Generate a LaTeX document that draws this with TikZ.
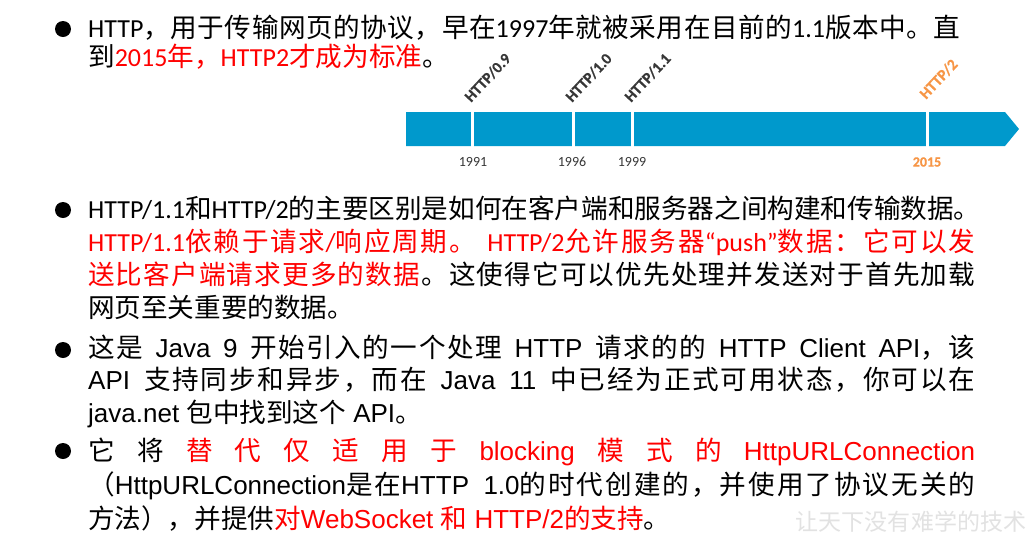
\documentclass[tikz,border=0pt]{standalone}
\usepackage{fontspec}
\setmainfont{Carlito}
\newfontfamily\zh{Noto Sans CJK SC}[Scale=1.023]
\newfontfamily\cb{Carlito}
\newfontfamily\cbb{Carlito}[UprightFont=*-Bold, FakeBold=0.6]
\newfontfamily\ar{Liberation Sans}
\definecolor{hred}{RGB}{255,0,0}
\definecolor{barblue}{RGB}{0,153,204}
\definecolor{lblgray}{RGB}{55,55,55}
\definecolor{horange}{RGB}{247,150,70}
\definecolor{wmgray}{RGB}{226,226,226}
\newcommand\ZEnd{}
\newcommand\Zloop[1]{\ifx#1\ZEnd\else\hskip0pt plus1pt minus0.5pt\relax#1\expandafter\Zloop\fi}
\newcommand\Zfirst[1]{#1\Zloop}
\newcommand\Z[1]{{\zh\Zfirst#1\ZEnd}}
\newcommand\z[1]{{\zh #1}}
\newcommand\G{\hskip0pt plus1pt minus0.5pt\relax}
\newcommand\R[1]{\textcolor{hred}{#1}}
\tikzset{
  txt/.style={anchor=base west, inner sep=0pt, font=\fontsize{26}{30}\selectfont},
  txtar/.style={anchor=base west, inner sep=0pt, font=\ar\fontsize{26}{30}\selectfont},
  bul/.style={circle, fill=black, inner sep=0pt, minimum size=16pt},
  verlbl/.style={anchor=base west, inner sep=0pt, rotate=47, text=lblgray, font=\cbb\fontsize{15.5}{17}\selectfont},
  yearlbl/.style={anchor=center, inner sep=0pt, text=lblgray, font=\cb\fontsize{14}{16}\selectfont},
  sep/.style={white, line width=3pt}
}
\begin{document}
\begin{tikzpicture}[x=1pt,y=-1pt]
\fill[white] (0,0) rectangle (1034,542);
\useasboundingbox (0,0) rectangle (1034,542);

% bullet 1
\node[bul] (b1) at (63,29) {};
\node[txt] (l11) at (88,37) {\makebox[872pt][s]{HTTP\Z{，用于传输网页的协议，早在}1997\Z{年就被采用在目前的}1.1\Z{版本中。直}}};
\node[txt] (l12) at (88,66) {\Z{到}\R{2015\Z{年，}HTTP2\Z{才成为标准}}\Z{。}};

% timeline
\fill[barblue] (406,112) coordinate (bar1) -- (1005,112) -- (1019,129) coordinate (tip) -- (1005,146) -- (406,146) -- cycle;
\coordinate (s1t) at (472.5,111); \coordinate (s1b) at (472.5,147);
\coordinate (s2t) at (573.5,111); \coordinate (s2b) at (573.5,147);
\coordinate (s3t) at (632.5,111); \coordinate (s3b) at (632.5,147);
\coordinate (s4t) at (927.5,111); \coordinate (s4b) at (927.5,147);
\draw[sep] (s1t) -- (s1b);
\draw[sep] (s2t) -- (s2b);
\draw[sep] (s3t) -- (s3b);
\draw[sep] (s4t) -- (s4b);
\node[verlbl] (v09) at (471,103) {HTTP/0.9};
\node[verlbl] (v10) at (572,103) {HTTP/1.0};
\node[verlbl] (v11) at (631,103) {HTTP/1.1};
\node[verlbl, text=horange] (v2) at (926,100) {HTTP/2};
\node[yearlbl] (y91) at (473,162) {1991};
\node[yearlbl] (y96) at (572,162) {1996};
\node[yearlbl] (y99) at (632,162) {1999};
\node[yearlbl, text=horange, font=\cbb\fontsize{14}{16}\selectfont] (y15) at (927,162) {2015};

% bullet 2
\node[bul] (b2) at (63,210) {};
\node[txt] (l21) at (88,218) {HTTP/1.1\Z{和}HTTP/2\Z{的主要区别是如何在客户端和服务器之间构建和传输数据。}};
\node[txt] (l22) at (88,251) {\makebox[887pt][s]{\R{HTTP/1.1\Z{依赖于请求}/\Z{响应周期。}\ HTTP/2\Z{允许服务器}“push”\Z{数据：它可以发}}}};
\node[txt] (l23) at (88,284) {\makebox[887pt][s]{\R{\Z{送比客户端请求更多的数据}}\G\Z{。这使得它可以优先处理并发送对于首先加载}}};
\node[txt] (l24) at (88,317) {\Z{网页至关重要的数据。}};

% bullet 3
\node[bul] (b3) at (63,350) {};
\node[txtar] (l31) at (88,357) {\makebox[887pt][s]{\Z{这是} Java 9 \Z{开始引入的一个处理} HTTP \Z{请求的的} HTTP Client API\Z{，该}}};
\node[txtar] (l32) at (88,389) {\makebox[887pt][s]{API \Z{支持同步和异步，而在} Java 11 \Z{中已经为正式可用状态，你可以在}}};
\node[txtar] (l33) at (88,422) {java.net \z{包中找到这个} API\z{。}};

% bullet 4
\node[bul] (b4) at (63,451) {};
\node[txtar] (l41) at (88,460) {\makebox[887pt][s]{\z{它}\hfill\z{将}\hfill\R{\z{替}\hfill\z{代}\hfill\z{仅}\hfill\z{适}\hfill\z{用}\hfill\z{于}\hfill blocking\hfill\z{模}\hfill\z{式}\hfill\z{的}\hfill HttpURLConnection}}};
\node[txtar] (l42) at (88,494) {\makebox[887pt][s]{\Z{（}HttpURLConnection\Z{是在}HTTP 1.0\Z{的时代创建的，并使用了协议无关的}}};
\node[txtar] (l43) at (88,528) {\Z{方法），并提供}\R{\Z{对}WebSocket \z{和} HTTP/2\Z{的支持}}\Z{。}};

% watermark
\node[inner sep=0pt, text=wmgray, font=\zh\fontsize{22.5}{24}\selectfont] (wm) at (911,522) {让天下没有难学的技术};
\end{tikzpicture}
\end{document}
